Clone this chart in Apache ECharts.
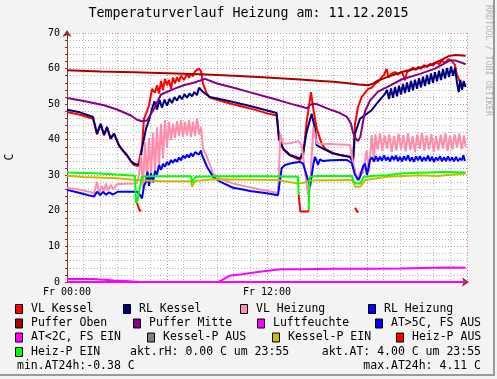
<!DOCTYPE html>
<html><head><meta charset="utf-8">
<script src="https://cdn.jsdelivr.net/npm/echarts@6/dist/echarts.min.js"></script>
<style>html,body{margin:0;padding:0;background:#f3f3f3}#c{width:497px;height:379px}</style>
</head><body><div id="c"></div><script>
// ---------- data ----------
const chartTitle = 'Temperaturverlauf Heizung am: 11.12.2015';
const yAxisTitle = 'C';
const watermark = 'RRDTOOL / TOBI OETIKER';
const xLabelHours = [0, 12];
const xLabelTexts = ['Fr 00:00', 'Fr 12:00'];
const seriesNames = ['VL Kessel','RL Kessel','VL Heizung','RL Heizung','Puffer Oben','Puffer Mitte','Luftfeuchte','AT>5C, FS AUS','AT<2C, FS EIN','Kessel-P AUS','Kessel-P EIN','Heiz-P AUS','Heiz-P EIN'];
const statsLeft4 = 'akt.rH: 0.00 C um 23:55';
const statsRight4 = 'akt.AT: 4.00 C um 23:55';
const statsLeft5 = 'min.AT24h:-0.38 C';
const statsRight5 = 'max.AT24h: 4.11 C';

const vlKessel = [[0,47.8],[0.78,47.0],[1.56,45.9],[1.8,41.5],[2.02,44.3],[2.22,41.3],[2.4,43.4],[2.62,40.3],[2.82,41.7],[3.12,38.3],[3.36,36.8],[3.6,35.5],[3.84,33.8],[4.02,32.9],[4.26,32.6],[4.38,33.0],[4.5,38.0],[4.62,45.9],[4.8,48.0],[4.92,49.7],[5.1,54.3],[5.28,53.2],[5.4,55.3],[5.52,53.0],[5.64,56.5],[5.76,54.0],[5.88,57.1],[6.0,55.3],[6.12,56.8],[6.24,54.3],[6.36,57.5],[6.48,55.8],[6.6,57.6],[6.72,56.3],[6.84,58.0],[7.02,56.8],[7.2,58.5],[7.32,57.4],[7.44,58.5],[7.56,57.8],[7.68,59.2],[7.8,58.7],[7.92,60.0],[8.04,59.3],[8.16,55.7],[8.4,52.9],[8.58,51.8],[9.78,50.2],[10.98,48.8],[12.18,47.2],[12.58,46.8],[12.72,40.2],[12.98,37.2],[13.38,35.6],[13.98,34.3],[14.18,36.0],[14.38,45.0],[14.64,53.4],[14.78,48.7],[14.98,43.1],[15.28,38.9],[15.48,37.5],[15.96,36.3],[16.38,35.7],[16.98,35.1],[17.16,33.8],[17.28,44.5],[17.46,49.2],[17.68,52.0],[17.88,53.2],[18.08,54.3],[18.28,54.6],[18.48,55.7],[18.68,56.3],[18.88,57.6],[19.02,58.2],[19.18,59.9],[19.29,57.5],[19.44,58.5],[19.68,59.0],[19.86,58.3],[20.08,59.2],[20.28,56.7],[20.4,59.0],[20.58,59.5],[20.76,60.3],[20.94,59.6],[21.08,60.5],[21.24,59.9],[21.42,61.0],[21.6,60.4],[21.78,61.3],[21.96,60.8],[22.14,61.8],[22.32,61.2],[22.5,62.2],[22.68,61.6],[22.86,62.6],[23.04,62.4],[23.16,62.6],[23.28,61.0],[23.38,58.5],[23.58,56.2],[23.7,55.0],[23.88,55.5]];

const rlKessel = [[0,48.4],[0.78,47.7],[1.56,46.4],[1.8,41.7],[2.02,44.5],[2.22,41.3],[2.4,43.6],[2.62,40.3],[2.82,41.7],[3.12,38.5],[3.36,37.0],[3.6,35.7],[3.84,34.0],[4.02,33.3],[4.26,32.9],[4.38,33.5],[4.5,37.5],[4.74,43.1],[4.92,45.5],[5.1,48.7],[5.25,50.8],[5.4,48.5],[5.55,51.2],[5.7,49.0],[5.85,51.3],[6.0,49.6],[6.15,51.5],[6.3,50.3],[6.45,52.0],[6.6,51.0],[6.75,52.4],[6.9,51.4],[7.05,52.8],[7.2,51.8],[7.35,53.0],[7.5,52.2],[7.65,53.4],[7.8,52.5],[7.92,54.6],[8.04,54.3],[8.16,53.4],[8.4,52.6],[8.58,52.0],[9.78,50.8],[10.98,49.5],[12.18,48.0],[12.58,47.5],[12.72,40.3],[12.98,37.5],[13.38,35.7],[13.98,34.7],[14.18,36.6],[14.38,42.2],[14.68,47.3],[14.88,43.0],[14.98,38.5],[15.36,37.5],[15.96,36.1],[16.38,35.7],[16.98,35.2],[17.16,33.8],[17.28,41.7],[17.58,45.9],[17.88,46.9],[18.28,48.3],[18.66,50.6],[19.08,52.9],[19.2,54.0],[19.32,51.4],[19.44,54.4],[19.56,51.8],[19.68,54.8],[19.8,52.2],[19.92,55.2],[20.04,52.7],[20.16,55.7],[20.28,53.1],[20.4,56.1],[20.52,53.5],[20.64,56.5],[20.76,53.9],[20.88,56.9],[21.0,54.3],[21.12,57.3],[21.24,54.7],[21.36,57.7],[21.48,55.1],[21.6,58.2],[21.72,55.6],[21.84,58.6],[21.96,56.0],[22.08,59.0],[22.2,56.4],[22.32,59.4],[22.44,56.8],[22.56,59.8],[22.68,57.2],[22.8,60.2],[22.92,57.6],[23.04,60.6],[23.16,58.0],[23.28,60.2],[23.4,56.0],[23.5,53.4],[23.6,56.8],[23.7,54.0],[23.8,56.5],[23.92,54.8]];

const vlHeizung = [[0,26.5],[0.78,25.9],[1.38,25.3],[1.62,24.9],[1.8,28.2],[1.92,25.0],[2.1,27.0],[2.22,25.5],[2.34,27.7],[2.46,25.8],[2.64,27.3],[2.76,26.0],[3.0,27.5],[3.48,27.6],[4.02,27.7],[4.2,27.9],[4.32,30.0],[4.44,35.7],[4.56,26.5],[4.68,39.4],[4.8,28.0],[4.92,40.5],[5.04,30.0],[5.16,42.0],[5.28,31.0],[5.4,43.5],[5.52,33.0],[5.64,44.5],[5.76,34.7],[5.88,45.5],[6.0,38.0],[6.12,45.0],[6.24,40.0],[6.36,44.5],[6.48,40.5],[6.6,45.2],[6.72,41.0],[6.84,45.5],[6.96,40.8],[7.08,45.0],[7.2,41.2],[7.32,45.6],[7.44,40.8],[7.56,45.0],[7.68,41.0],[7.8,46.0],[7.92,41.5],[8.04,43.5],[8.16,37.5],[8.4,35.2],[8.58,32.9],[8.76,30.5],[9.18,29.1],[9.96,27.7],[10.98,26.6],[11.88,25.7],[12.66,25.0],[12.75,25.0],[12.81,41.7],[12.96,38.9],[13.38,39.0],[13.86,39.6],[14.08,38.5],[14.28,31.0],[14.46,24.5],[14.58,26.8],[14.78,43.6],[14.98,39.0],[15.18,38.9],[15.78,38.8],[16.98,38.5],[17.16,33.8],[17.4,28.7],[17.58,31.0],[17.76,30.5],[17.98,37.0],[18.12,31.0],[18.28,41.3],[18.42,34.0],[18.5,41.5],[18.64,37.2],[18.78,41.8],[18.92,36.8],[19.06,41.2],[19.2,37.5],[19.34,41.6],[19.48,36.6],[19.62,41.0],[19.76,37.0],[19.9,41.7],[20.04,37.3],[20.18,41.3],[20.32,36.7],[20.46,41.8],[20.6,37.1],[20.74,41.0],[20.88,36.5],[21.02,41.5],[21.16,37.4],[21.3,41.9],[21.44,36.9],[21.58,41.2],[21.72,37.2],[21.86,41.6],[22.0,36.6],[22.14,41.0],[22.28,37.0],[22.42,41.4],[22.56,37.5],[22.7,41.8],[22.84,36.8],[22.98,41.1],[23.12,37.2],[23.26,41.5],[23.4,37.8],[23.54,41.7],[23.68,37.3],[23.82,41.2],[23.92,38.0]];

const rlHeizung = [[0,25.9],[0.78,25.0],[1.62,24.0],[1.8,25.4],[1.98,24.4],[2.16,25.3],[2.34,24.5],[2.52,25.2],[2.76,24.6],[3.06,25.4],[3.48,25.4],[4.2,25.4],[4.38,24.5],[4.5,23.5],[4.62,27.0],[4.74,28.2],[4.83,31.0],[4.92,27.0],[5.04,30.5],[5.16,28.0],[5.28,31.2],[5.4,30.2],[5.52,32.9],[5.64,31.5],[5.76,33.2],[5.88,32.4],[6.0,33.8],[6.12,32.9],[6.24,34.3],[6.36,33.5],[6.48,34.5],[6.6,33.8],[6.72,35.0],[6.84,34.2],[6.96,35.5],[7.08,34.8],[7.2,35.8],[7.32,35.0],[7.44,36.2],[7.56,35.3],[7.68,36.5],[7.8,37.0],[7.92,35.8],[8.04,37.0],[8.1,35.7],[8.4,32.4],[8.76,29.6],[9.18,28.2],[9.96,26.5],[10.56,26.0],[10.98,25.6],[11.88,25.0],[12.66,24.4],[12.75,24.0],[12.88,32.0],[13.08,32.9],[13.38,33.3],[13.98,33.8],[14.16,33.3],[14.28,31.5],[14.4,29.6],[14.58,26.8],[14.7,30.5],[14.79,33.3],[14.88,35.2],[15.06,33.0],[15.18,34.5],[15.36,34.0],[15.78,34.2],[16.38,34.3],[16.8,34.3],[17.08,33.5],[17.28,30.1],[17.48,28.7],[17.58,29.5],[17.76,32.5],[17.88,33.3],[18.0,30.1],[18.18,34.3],[18.3,35.0],[18.42,33.8],[18.54,35.4],[18.66,34.0],[18.78,35.2],[18.9,34.1],[19.02,35.6],[19.14,34.2],[19.26,35.1],[19.38,33.9],[19.5,35.4],[19.62,34.3],[19.74,35.5],[19.86,34.0],[19.98,35.2],[20.1,33.9],[20.22,35.3],[20.34,34.2],[20.46,35.6],[20.58,34.0],[20.7,35.0],[20.82,33.8],[20.94,35.3],[21.06,34.2],[21.18,35.4],[21.3,33.9],[21.42,35.1],[21.54,34.1],[21.66,35.5],[21.78,34.0],[21.9,35.2],[22.02,33.8],[22.14,35.0],[22.26,34.2],[22.38,35.4],[22.5,33.9],[22.62,35.1],[22.74,34.0],[22.86,35.3],[22.98,34.1],[23.1,35.0],[23.22,33.9],[23.34,35.2],[23.46,34.0],[23.58,34.8],[23.7,34.2],[23.78,35.6],[23.88,34.0]];

const pufferOben = [[0,59.5],[2,59.2],[4,59.0],[6,58.7],[8,58.4],[10,58.0],[12,57.5],[13,57.2],[14,56.9],[15,56.6],[16,56.3],[17,55.8],[17.5,55.5],[18,55.3],[18.3,55.6],[18.6,56.5],[19.2,57.6],[19.7,58.4],[20.3,59.3],[21,60.0],[21.8,61.0],[22.5,62.5],[22.9,63.5],[23.3,63.8],[23.92,63.6]];

const pufferMitte = [[0,51.7],[1,50.9],[2.22,49.7],[3,48.5],[3.84,46.8],[4.2,45.6],[4.5,45.2],[4.8,45.4],[5.22,48.7],[5.64,52.7],[6.42,54.3],[7.0,55.3],[7.6,56.0],[8.28,57.1],[9,55.8],[10,54.6],[11,53.3],[12,52.0],[12.78,51.0],[13.5,50.0],[14.16,49.2],[14.4,48.8],[14.6,49.8],[14.76,50.1],[15.0,50.0],[15.6,48.8],[16.38,47.5],[16.8,46.4],[17.04,44.5],[17.16,42.0],[17.3,40.5],[17.46,39.6],[17.6,40.8],[17.72,44.0],[17.88,48.0],[18.18,51.0],[18.66,53.5],[19.2,54.8],[20.1,57.0],[21.18,58.5],[22.08,60.0],[22.98,62.3],[23.3,62.3],[23.92,61.2]];

const luftfeuchte = [[0,0],[6,0],[12,0],[18,0],[23.92,0]];
const atWarm = [];
const atKalt = [[0,0.85],[1.6,0.85],[1.7,0.45],[2.8,0.45],[2.9,0.3],[3.5,0.3],[3.6,0.0],[5,-0.2],[7,-0.3],[8,-0.38],[9.0,-0.2],[9.1,0.0],[9.4,0.8],[9.8,1.85],[10.5,2.2],[11,2.5],[11.8,3.0],[12.8,3.6],[14,3.6],[16,3.7],[18,3.7],[20,3.8],[22,4.0],[23,4.1],[23.92,4.0]];
const kesselPAus = [];
const kesselPEin = [[0,29.9],[1,29.5],[3,29.2],[3.8,28.8],[4.2,28.7],[5.64,28.3],[7.44,28.3],[7.5,26.8],[7.56,26.3],[7.62,26.6],[7.7,28.4],[8.76,28.9],[12.6,28.7],[13.86,27.7],[14.2,27.9],[14.58,28.5],[17.1,28.7],[17.3,26.8],[17.6,26.8],[17.9,28.7],[19.2,29.6],[21.18,30.0],[22.2,29.8],[23.92,30.5]];
const heizPAus = [[4.2,22.2],[4.35,20.2],[4.45,19.9],[4.5,null],[13.9,24.5],[14.0,19.8],[14.46,19.8],[14.5,20.2],[14.52,null],[17.28,20.9],[17.46,19.5]];
const heizPEin = [[0,30.8],[2,30.5],[4.08,29.9],[4.14,22.2],[4.17,null],[4.2,22.2],[4.5,29.6],[5,29.7],[7.44,29.7],[7.5,28.0],[7.56,27.5],[7.62,28.0],[7.7,29.6],[9,29.7],[12,29.7],[13.86,29.6],[13.9,24.5],[13.95,null],[14.5,20.2],[14.56,29.5],[15,29.8],[17.1,29.8],[17.2,28.2],[17.35,27.7],[17.6,27.7],[17.8,29.6],[18.5,29.9],[19.2,30.0],[20,30.5],[21,30.7],[21.8,30.8],[22.6,30.9],[23.92,30.8]];

const seriesData = [vlKessel, rlKessel, vlHeizung, rlHeizung, pufferOben, pufferMitte, luftfeuchte, atWarm, atKalt, kesselPAus, kesselPEin, heizPAus, heizPEin];

// ---------- styles / layout ----------
const colors = ['#ff0000','#000080','#ff8cab','#0000ff','#aa0000','#880088','#ff00ff','#0000ff','#ff00ff','#808080','#c8bc00','#ff0000','#00ff00'];
const FONT = 'DejaVu Sans Mono';
const legendPos = [[15,0],[123,0],[240,0],[368,0],[15,1],[133,1],[257,1],[375,1],[15,2],[147,2],[272,2],[396,2],[15,3]];
const rowY = [309, 323.5, 337.5, 352, 366];

const graphics = [];
function txt(x, y, text, opts) {
  const o = Object.assign({align:'left', size:11.5, color:'#000', rot:0}, opts || {});
  graphics.push({type:'text', x:x, y:y, rotation:o.rot, silent:true, z:10,
    style:{text:text, x:0, y:0, fill:o.color, fontFamily:FONT, fontSize:o.size,
      align:o.align, textAlign:o.align, verticalAlign:'middle', textVerticalAlign:'middle'}});
}
// frame
graphics.push({type:'rect', shape:{x:493, y:0, width:2, height:376}, style:{fill:'#9a9a9a'}, silent:true});
graphics.push({type:'rect', shape:{x:0, y:374, width:495, height:2}, style:{fill:'#9a9a9a'}, silent:true});
// title, axis name, watermark
txt(248.5, 14, chartTitle, {align:'center', size:13.3});
txt(10.5, 157, yAxisTitle, {align:'center', rot:Math.PI/2});
txt(488, 5, watermark, {align:'left', size:8.4, color:'#b4b4b4', rot:-Math.PI/2});
// legend
seriesNames.forEach((n, i) => {
  const [x, r] = legendPos[i];
  const y = rowY[r];
  graphics.push({type:'rect', shape:{x:x+0.5, y:y-4.5, width:7, height:9}, style:{fill:colors[i], stroke:'#000', lineWidth:1}, silent:true, z:10});
  txt(x+16, y, n);
});
txt(130, rowY[3], statsLeft4);
txt(481, rowY[3], statsRight4, {align:'right'});
txt(17, rowY[4], statsLeft5);
txt(481, rowY[4], statsRight5, {align:'right'});

const axisColor = '#8a3030';
const majorGrid = {show:true, lineStyle:{color:'#d98a8a', width:1, type:[1,2]}};
const minorGrid = {show:true, lineStyle:{color:'#b5b5b5', width:1, type:[1,2]}};

const chart = echarts.init(document.getElementById('c'), null, {renderer:'canvas'});
chart.setOption({
  animation:false,
  backgroundColor:'#f3f3f3',
  grid:{left:67, top:33, width:400, height:249, show:true, backgroundColor:'#ffffff', borderWidth:0, containLabel:false},
  xAxis:{type:'value', min:0, max:24, interval:6,
    axisLine:{show:true, onZero:false, lineStyle:{color:axisColor, width:1}, symbol:['none','arrow'], symbolSize:[7,7], symbolOffset:[0,2]},
    axisTick:{show:false}, minorTick:{show:false, splitNumber:6},
    splitLine:majorGrid, minorSplitLine:minorGrid,
    axisLabel:{margin:5, fontFamily:FONT, fontSize:10, color:'#000', showMinLabel:true, showMaxLabel:false,
      formatter:v => { const i = xLabelHours.indexOf(v); return i >= 0 ? xLabelTexts[i] : ''; }}},
  yAxis:{type:'value', min:0, max:70, interval:10,
    axisLine:{show:true, onZero:false, lineStyle:{color:axisColor, width:1}, symbol:['none','arrow'], symbolSize:[7,7], symbolOffset:[0,3]},
    axisTick:{show:true, length:2, lineStyle:{color:axisColor}}, minorTick:{show:true, splitNumber:5, length:2, lineStyle:{color:axisColor}},
    splitLine:majorGrid, minorSplitLine:minorGrid,
    axisLabel:{margin:7, fontFamily:FONT, fontSize:10, color:'#000'}},
  graphic:graphics,
  series:seriesNames.map((n, i) => ({
    name:n, type:'line', data:seriesData[i], showSymbol:false, symbol:'none',
    connectNulls:false, color:colors[i],
    lineStyle:{color:colors[i], width:2}, z:2+i*0.01
  }))
});
</script></body></html>
